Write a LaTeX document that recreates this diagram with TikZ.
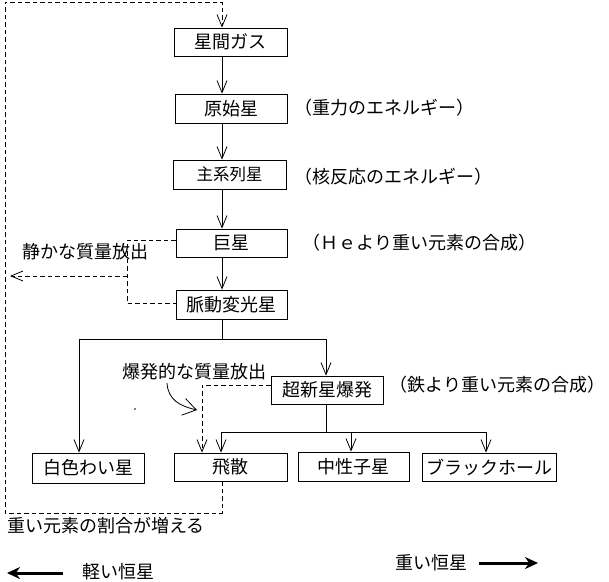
\documentclass[tikz,border=0pt]{standalone}
\usepackage{fontspec}
\newfontfamily\jp{Noto Sans CJK JP}
\usetikzlibrary{arrows.meta}
\begin{document}
\begin{tikzpicture}[x=1pt,y=-1pt, line width=0.8pt,
  box/.style={draw, inner sep=0pt, font=\jp\fontsize{18}{18}\selectfont},
  lbl/.style={inner sep=0pt, anchor=west, font=\jp\fontsize{18}{18}\selectfont},
  vt/.style={-{Straight Barb[length=12pt,width=10pt]}},
  dsh/.style={dash pattern=on 4.5pt off 3pt},
  thick arrow/.style={line width=3pt, -{Stealth[length=13pt,width=12pt]}}]
\path[use as bounding box, fill=white] (0,0) rectangle (609,581);

% boxes
\node[box, minimum width=113pt, minimum height=28pt] (gas) at (230.5,42) {星間ガス};
\node[box, minimum width=112pt, minimum height=29pt] (proto) at (231,108.5) {原始星};
\node[box, minimum width=113pt, minimum height=29pt, font=\jp\fontsize{16.5}{16.5}\selectfont] (ms) at (229.5,174.5) {主系列星};
\node[box, minimum width=111pt, minimum height=28pt] (giant) at (231.5,243) {巨星};
\node[box, minimum width=111pt, minimum height=29pt] (pulse) at (231.5,304.5) {脈動変光星};
\node[box, minimum width=112pt, minimum height=28pt] (sn) at (327,390) {超新星爆発};
\node[box, minimum width=112pt, minimum height=30pt] (wd) at (88,468) {白色わい星};
\node[box, minimum width=113pt, minimum height=28pt] (scat) at (230.5,467) {飛散};
\node[box, minimum width=111pt, minimum height=29pt] (ns) at (353.5,466.5) {中性子星};
\node[box, minimum width=134pt, minimum height=28pt] (bh) at (489,467) {ブラックホール};

% labels
\node[lbl] (l1) at (294,108) {（重力のエネルギー）};
\node[lbl] (l2) at (294,177) {（核反応のエネルギー）};
\node[lbl] (l3) at (302,243) {（Ｈｅより重い元素の合成）};
\node[lbl] (l4) at (389,385) {（鉄より重い元素の合成）};
\node[lbl] (l5) at (22,252) {静かな質量放出};
\node[lbl] (l6) at (122,372) {爆発的な質量放出};
\node[lbl] (l7) at (7,526) {重い元素の割合が増える};
\node[lbl] (l8) at (82,572) {軽い恒星};
\node[lbl] (l9) at (395,563) {重い恒星};

% main flow
\coordinate (mx) at (222,0);
\draw[vt] (mx |- gas.south) -- (mx |- proto.north);
\draw[vt] (mx |- proto.south) -- (mx |- ms.north);
\draw[vt] (mx |- ms.south) -- (mx |- giant.north);
\draw[vt] (mx |- giant.south) -- (mx |- pulse.north);
\coordinate (j0) at (222,339);
\coordinate (j1) at (79,339);
\coordinate (j2) at (326,339);
\draw (mx |- pulse.south) -- (j0);
\draw (j1) -- (j2);
\draw[vt] (j1) -- (j1 |- wd.north);
\draw[vt] (j2) -- (j2 |- sn.north);
\coordinate (k0) at (326,432);
\coordinate (k1) at (221,432);
\coordinate (k2) at (351,432);
\coordinate (k3) at (486,432);
\draw (k0 |- sn.south) -- (k0);
\draw (k1) -- (k3);
\draw[vt] (k1) -- (k1 |- scat.north);
\draw[vt] (k2) -- (k2 |- ns.north);
\draw[vt] (k3) -- (k3 |- bh.north);

% explosive mass loss
\coordinate (e0) at (202,385);
\draw[dsh,vt] (sn.west |- e0) -- (e0) -- (e0 |- scat.north);
\coordinate (s0) at (167,383);
\coordinate (s1) at (197,410);
\draw[-{Straight Barb[length=13pt,width=17pt]}] (s0) .. controls (168,400) and (180,406) .. (s1);
\fill (135,409) circle (0.8);

% recycling loop
\coordinate (r1) at (222,513);
\coordinate (r2) at (5,513);
\coordinate (r3) at (5,2);
\coordinate (r4) at (222,2);
\draw[dsh,vt] (r1 |- scat.south) -- (r1) -- (r2) -- (r3) -- (r4) -- (r4 |- gas.north);

% quiet mass loss
\coordinate (q1) at (127,240);
\coordinate (q2) at (127,303);
\coordinate (q3) at (127,276);
\coordinate (q4) at (10,276);
\draw[dsh] (giant.west |- q1) -- (q1) -- (q2) -- (pulse.west |- q2);
\draw[dsh,vt] (q3) -- (q4);

% light / heavy stars
\coordinate (ta) at (63,573);
\coordinate (tb) at (7,573);
\coordinate (tc) at (479,563);
\coordinate (td) at (538,563);
\draw[thick arrow] (ta) -- (tb);
\draw[thick arrow] (tc) -- (td);
\end{tikzpicture}
\end{document}
